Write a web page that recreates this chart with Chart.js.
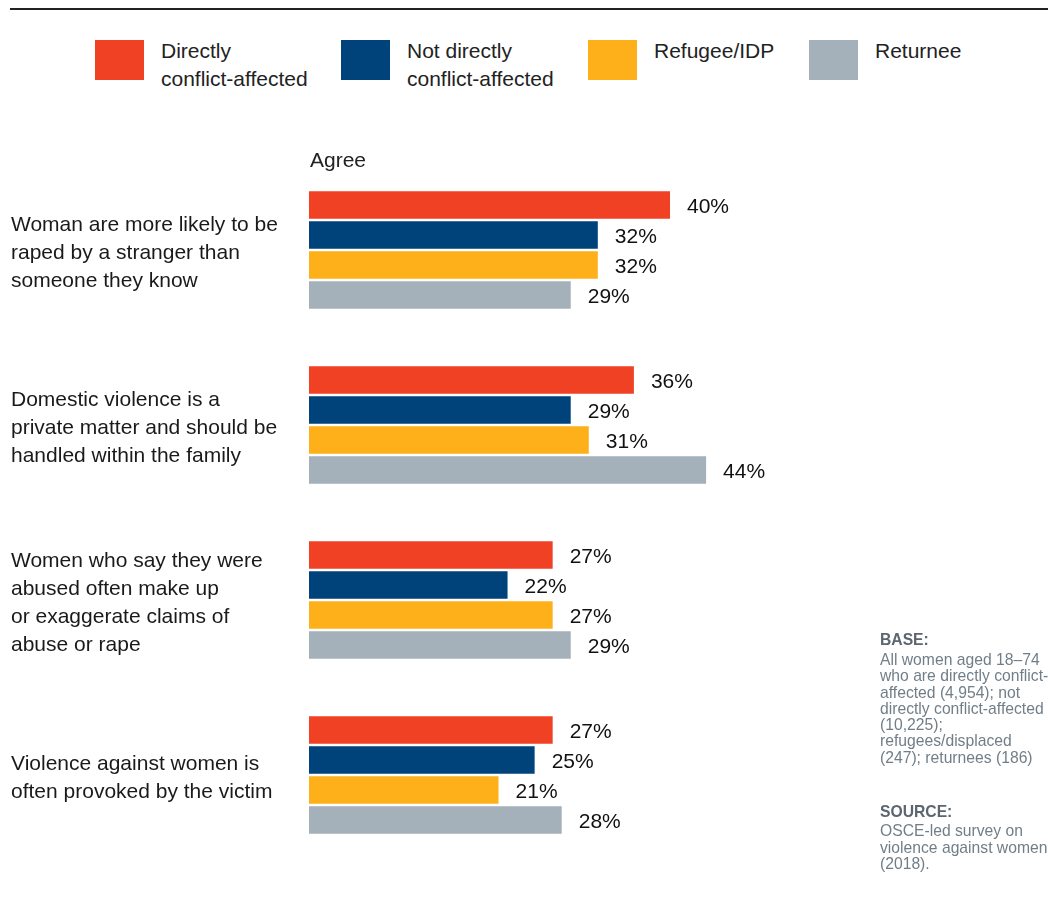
<!DOCTYPE html>
<html>
<head>
<meta charset="utf-8">
<script src="https://cdn.jsdelivr.net/npm/chart.js@4.4.1/dist/chart.umd.min.js"></script>
<style>
  html, body { margin: 0; padding: 0; background: #fff; overflow: hidden; }
  body { width: 1048px; height: 897px; position: relative; font-family: "Liberation Sans", Arial, sans-serif; }
  #rule { position: absolute; left: 10px; right: 0; top: 8px; height: 2px; background: #222; }
  .key { position: absolute; top: 40px; }
  .key .sw { position: absolute; left: 0; top: 0; width: 49px; height: 40px; }
  .key .tx { position: absolute; left: 66px; top: -3px; font-size: 21px; line-height: 28px; color: #222; white-space: nowrap; }
  .note { position: absolute; left: 880px; width: 200px; font-size: 15.7px; line-height: 16.3px; color: #717e88; white-space: nowrap; }
  .note .head { font-weight: bold; color: #5b6670; line-height: 16px; margin-bottom: 4px; }
  #chart { position: absolute; left: 0; top: 0; }
</style>
</head>
<body>
<div id="rule"></div>
<div id="legend"></div>
<canvas id="chart" width="1048" height="897"></canvas>
<div class="note" style="top: 632px;">
  <div class="head">BASE:</div>
  All women aged 18–74<br>
  who are directly conflict-<br>
  affected (4,954); not<br>
  directly conflict-affected<br>
  (10,225);<br>
  refugees/displaced<br>
  (247); returnees (186)
</div>
<div class="note" style="top: 804px; line-height: 16.5px;">
  <div class="head" style="margin-bottom: 3px;">SOURCE:</div>
  OSCE-led survey on<br>
  violence against women<br>
  (2018).
</div>
<script>
// statements shown on the left
const statements = [
    ['Woman are more likely to be', 'raped by a stranger than', 'someone they know'],
    ['Domestic violence is a', 'private matter and should be', 'handled within the family'],
    ['Women who say they were', 'abused often make up', 'or exaggerate claims of', 'abuse or rape'],
    ['Violence against women is', 'often provoked by the victim']
];

// share who agree, per group
const directlyAffected = [40, 36, 27, 27];
const notDirectlyAffected = [32, 29, 22, 25];
const refugeeIdp = [32, 31, 27, 21];
const returnee = [29, 44, 29, 28];

const groupNames = [
    ['Directly', 'conflict-affected'],
    ['Not directly', 'conflict-affected'],
    ['Refugee/IDP'],
    ['Returnee']
];
const groupColors = ['#f04125', '#00427a', '#fdb019', '#a5b1ba'];
const legendX = [95, 341, 588, 809];

const FONT = '"Liberation Sans", Arial, sans-serif';

// legend squares with their captions
const legend = document.getElementById('legend');
groupNames.forEach((name, i) => {
    const item = document.createElement('div');
    item.className = 'key';
    item.style.left = legendX[i] + 'px';
    item.innerHTML = `<div class="sw" style="background:${groupColors[i]}"></div><div class="tx">${name.join('<br>')}</div>`;
    legend.appendChild(item);
});

// puts "Agree" over the bars and the value after each bar
const barLabels = {
    id: 'barLabels',
    afterDatasetsDraw(chart) {
        const ctx = chart.ctx;
        ctx.save();
        ctx.font = '21px ' + FONT;
        ctx.fillStyle = '#222';
        ctx.textAlign = 'left';
        ctx.textBaseline = 'middle';
        ctx.fillText('Agree', chart.chartArea.left + 1, 161);

        ctx.fillStyle = '#111';
        chart.data.datasets.forEach((ds, i) => {
            const meta = chart.getDatasetMeta(i);
            meta.data.forEach((bar, j) => {
                ctx.fillText(ds.data[j] + '%', bar.x + 17, bar.y + 2);
            });
        });
        ctx.restore();
    }
};

const ctx = document.getElementById('chart').getContext('2d');
const chart = new Chart(ctx, {
    type: 'bar',
    data: {
        labels: statements,
        datasets: [
            { label: groupNames[0].join(' '), data: directlyAffected, backgroundColor: groupColors[0] },
            { label: groupNames[1].join(' '), data: notDirectlyAffected, backgroundColor: groupColors[1] },
            { label: groupNames[2].join(' '), data: refugeeIdp, backgroundColor: groupColors[2] },
            { label: groupNames[3].join(' '), data: returnee, backgroundColor: groupColors[3] }
        ]
    },
    options: {
        indexAxis: 'y',
        responsive: false,
        animation: false,
        devicePixelRatio: 1,
        categoryPercentage: 0.686,
        barPercentage: 0.917,
        layout: {
            padding: { left: 11, top: 162.5, bottom: 34.5, right: 17 }
        },
        plugins: {
            legend: { display: false },
            tooltip: { enabled: false }
        },
        scales: {
            x: {
                display: false,
                min: 0,
                max: 80
            },
            y: {
                grid: { display: false },
                border: { display: false },
                ticks: {
                    crossAlign: 'far',
                    labelOffset: 3,
                    color: '#1a1a1a',
                    font: { family: FONT, size: 21, lineHeight: 28 / 21 }
                },
                afterFit(scale) {
                    scale.width = 298;
                    scale.paddingTop = 0;
                    scale.paddingBottom = 0;
                }
            }
        }
    },
    plugins: [barLabels]
});
</script>
</body>
</html>
